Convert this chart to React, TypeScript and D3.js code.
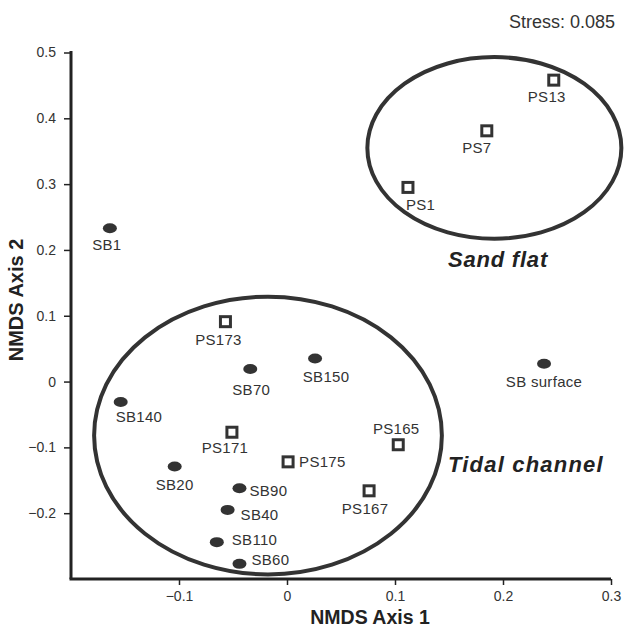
import React, { useEffect, useRef } from "react";
import * as d3 from "d3";

// sample scores on the two NMDS axes
const sampleNames = [
  "SB1", "SB70", "SB150", "SB140", "SB20", "SB90", "SB40", "SB110", "SB60", "SB surface",
  "PS13", "PS7", "PS1", "PS173", "PS171", "PS175", "PS165", "PS167",
];
const nmds1 = [
  -0.164, -0.034, 0.026, -0.154, -0.104, -0.044, -0.055, -0.065, -0.044, 0.238,
  0.247, 0.185, 0.112, -0.057, -0.051, 0.001, 0.103, 0.076,
];
const nmds2 = [
  0.233, 0.019, 0.035, -0.031, -0.129, -0.162, -0.195, -0.244, -0.277, 0.027,
  0.458, 0.381, 0.295, 0.091, -0.077, -0.122, -0.096, -0.166,
];
const sampleKind = [
  "SB", "SB", "SB", "SB", "SB", "SB", "SB", "SB", "SB", "SB",
  "PS", "PS", "PS", "PS", "PS", "PS", "PS", "PS",
];

// where each sample's label sits relative to its marker (px)
const labelDx = [-3, 1, 11, -5, 0, 10, 13, 15, 12, 0, -7, -10, -2, -7, -7, 11, -2, -4];
const labelDy = [22, 26, 23, 20, 24, 8, 10, 3, 1, 23, 22, 22, 23, 23, 21, 5, -11, 23];
const labelAnchor = [
  "middle", "middle", "middle", "start", "middle", "start", "start", "start", "start", "middle",
  "middle", "middle", "start", "middle", "middle", "start", "middle", "middle",
];

// groups (ellipses in axis units)
const groupNames = ["Sand flat", "Tidal channel"];
const groupCx = [0.192, -0.0176];
const groupCy = [0.355, -0.082];
const groupRx = [0.1176, 0.161];
const groupRy = [0.138, 0.211];

const xTicks = [-0.1, 0, 0.1, 0.2, 0.3];
const yTicks = [-0.2, -0.1, 0, 0.1, 0.2, 0.3, 0.4, 0.5];

const ink = "#333";
const font = "Arial, 'Liberation Sans', sans-serif";

const App = () => {
  const svgRef = useRef<SVGSVGElement>(null);

  useEffect(() => {
    if (!svgRef.current) return;
    const svg = d3.select(svgRef.current);
    svg.selectAll("*").remove();

    const x = d3.scaleLinear().domain([-0.2, 0.3]).range([71, 611]);
    const y = d3.scaleLinear().domain([-0.3, 0.5]).range([579, 52.5]);

    svg.append("rect").attr("width", 624).attr("height", 628).attr("fill", "#fff");

    // ellipses
    groupNames.forEach((_, i) => {
      svg.append("ellipse")
        .attr("cx", x(groupCx[i]))
        .attr("cy", y(groupCy[i]))
        .attr("rx", x(groupRx[i]) - x(0))
        .attr("ry", y(0) - y(groupRy[i]))
        .attr("fill", "none")
        .attr("stroke", ink)
        .attr("stroke-width", 4);
    });

    // axes
    const xAxis = svg.append("g")
      .attr("transform", `translate(0,${y(-0.3)})`)
      .call(d3.axisBottom(x).tickValues(xTicks).tickSize(6).tickSizeOuter(0)
        .tickFormat(d => d3.format("")(+d)));
    xAxis.select(".domain").attr("stroke", "#222").attr("stroke-width", 3)
      .attr("d", `M${x(-0.2) - 1.5},0H${x(0.3)}`);
    xAxis.selectAll(".tick line").attr("stroke", "#222").attr("stroke-width", 1.5);
    xAxis.selectAll(".tick text")
      .attr("font-family", font).attr("font-size", 14).attr("fill", ink).attr("dy", "0.95em");

    const yAxis = svg.append("g")
      .attr("transform", `translate(${x(-0.2)},0)`)
      .call(d3.axisLeft(y).tickValues(yTicks).tickSize(7).tickSizeOuter(0)
        .tickFormat(d => d3.format("")(+d)));
    yAxis.select(".domain").attr("stroke", "#222").attr("stroke-width", 3)
      .attr("d", `M0,${y(0.5) - 1.5}V${y(-0.3)}`);
    yAxis.selectAll(".tick line").attr("stroke", "#222").attr("stroke-width", 1.5);
    yAxis.selectAll(".tick text")
      .attr("font-family", font).attr("font-size", 14).attr("fill", ink).attr("x", -15);

    // axis titles
    svg.append("text")
      .attr("x", 370).attr("y", 623.5)
      .attr("text-anchor", "middle")
      .attr("font-family", font).attr("font-size", 19.5).attr("font-weight", "bold")
      .attr("fill", "#222")
      .text("NMDS Axis 1");
    svg.append("text")
      .attr("transform", "translate(23,300) rotate(-90)")
      .attr("text-anchor", "middle")
      .attr("font-family", font).attr("font-size", 20).attr("font-weight", "bold")
      .attr("fill", "#222")
      .text("NMDS Axis 2");

    // stress
    svg.append("text")
      .attr("x", 615).attr("y", 28)
      .attr("text-anchor", "end")
      .attr("font-family", font).attr("font-size", 18).attr("fill", ink)
      .text("Stress: 0.085");

    // group labels
    svg.append("text")
      .attr("x", 498).attr("y", 267)
      .attr("text-anchor", "middle")
      .attr("font-family", font).attr("font-size", 22).attr("font-weight", "bold")
      .attr("font-style", "italic").attr("letter-spacing", 0.8).attr("fill", "#222")
      .text(groupNames[0]);
    svg.append("text")
      .attr("x", 448).attr("y", 472)
      .attr("text-anchor", "start")
      .attr("font-family", font).attr("font-size", 22).attr("font-weight", "bold")
      .attr("font-style", "italic").attr("letter-spacing", 1.2).attr("fill", "#222")
      .text(groupNames[1]);

    // markers
    const idx = d3.range(sampleNames.length);
    svg.selectAll(".sb")
      .data(idx.filter(i => sampleKind[i] === "SB"))
      .enter()
      .append("ellipse")
      .attr("cx", i => x(nmds1[i]))
      .attr("cy", i => y(nmds2[i]))
      .attr("rx", 7)
      .attr("ry", 5)
      .attr("fill", ink);

    svg.selectAll(".ps")
      .data(idx.filter(i => sampleKind[i] === "PS"))
      .enter()
      .append("rect")
      .attr("x", i => x(nmds1[i]) - 5)
      .attr("y", i => y(nmds2[i]) - 5)
      .attr("width", 10)
      .attr("height", 10)
      .attr("fill", "#fff")
      .attr("stroke", ink)
      .attr("stroke-width", 3);

    // sample labels
    svg.selectAll(".lbl")
      .data(idx)
      .enter()
      .append("text")
      .attr("x", i => x(nmds1[i]) + labelDx[i])
      .attr("y", i => y(nmds2[i]) + labelDy[i])
      .attr("text-anchor", i => labelAnchor[i])
      .attr("font-family", font)
      .attr("font-size", 15)
      .attr("letter-spacing", 0.3)
      .attr("fill", ink)
      .text(i => sampleNames[i]);
  }, []);

  return (
    <svg
      ref={svgRef}
      width={624}
      height={628}
      style={{ position: "absolute", left: 0, top: 0, display: "block" }}
    />
  );
};

export default App;
